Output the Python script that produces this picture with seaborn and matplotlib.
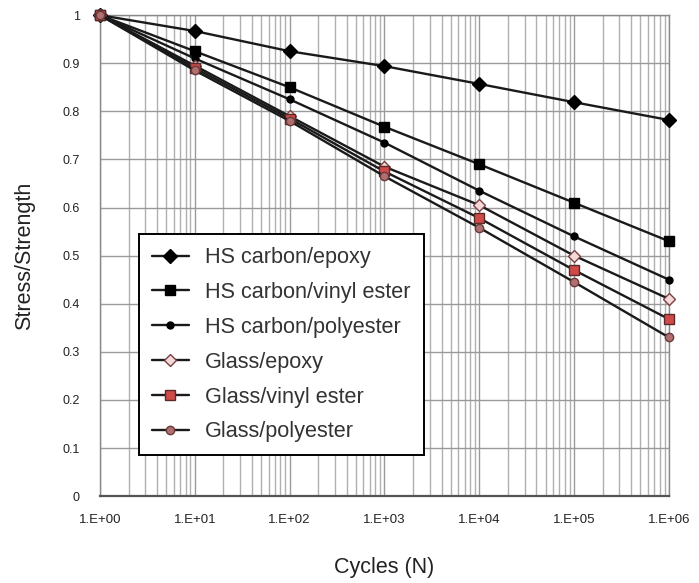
import numpy as np
import pandas as pd
import matplotlib
matplotlib.use('Agg')
import matplotlib.pyplot as plt
import seaborn as sns
from matplotlib.ticker import LogLocator, NullFormatter

# data
cycles = [1e0, 1e1, 1e2, 1e3, 1e4, 1e5, 1e6]
series_names = [
    "HS carbon/epoxy",
    "HS carbon/vinyl ester",
    "HS carbon/polyester",
    "Glass/epoxy",
    "Glass/vinyl ester",
    "Glass/polyester",
]
hs_carbon_epoxy = [1.0, 0.967, 0.925, 0.894, 0.857, 0.819, 0.782]
hs_carbon_vinyl = [1.0, 0.925, 0.850, 0.768, 0.690, 0.610, 0.530]
hs_carbon_poly = [1.0, 0.910, 0.825, 0.735, 0.635, 0.540, 0.450]
glass_epoxy = [1.0, 0.895, 0.790, 0.685, 0.605, 0.500, 0.410]
glass_vinyl = [1.0, 0.890, 0.785, 0.675, 0.578, 0.470, 0.368]
glass_poly = [1.0, 0.885, 0.780, 0.665, 0.558, 0.445, 0.330]
tick_labels = ["1.E+00", "1.E+01", "1.E+02", "1.E+03", "1.E+04", "1.E+05", "1.E+06"]

values = [hs_carbon_epoxy, hs_carbon_vinyl, hs_carbon_poly,
          glass_epoxy, glass_vinyl, glass_poly]

df = pd.DataFrame({
    "Cycles": np.tile(cycles, len(series_names)),
    "Ratio": np.concatenate(values),
    "Material": np.repeat(series_names, len(cycles)),
})

# marker styles per series
styles = {
    "HS carbon/epoxy": dict(marker="D", ms=7, mfc="black", mec="black"),
    "HS carbon/vinyl ester": dict(marker="s", ms=7, mfc="black", mec="black"),
    "HS carbon/polyester": dict(marker="o", ms=5, mfc="black", mec="black"),
    "Glass/epoxy": dict(marker="D", ms=6, mfc="#f3d9d9", mec="#7a4040"),
    "Glass/vinyl ester": dict(marker="s", ms=7, mfc="#d04a4a", mec="#5a2a2a"),
    "Glass/polyester": dict(marker="o", ms=6, mfc="#b07070", mec="#6a3a3a"),
}

sns.set_style("white")
plt.rcParams['font.family'] = ['Liberation Sans', 'DejaVu Sans']

fig = plt.figure(figsize=(6.99, 5.83), dpi=100)
ax = fig.add_axes([0.143, 0.149, 0.814, 0.825])

for name in series_names:
    st = styles[name]
    sns.lineplot(
        data=df[df["Material"] == name], x="Cycles", y="Ratio",
        ax=ax, color="#1a1a1a", linewidth=1.7, label=name,
        marker=st["marker"], markersize=st["ms"],
        markerfacecolor=st["mfc"], markeredgecolor=st["mec"],
        markeredgewidth=1.0, clip_on=False, zorder=3,
    )

ax.set_xscale("log")
ax.set_xlim(1, 1e6)
ax.set_ylim(0, 1)
ax.set_xticks(cycles)
ax.set_xticklabels(tick_labels, fontsize=9.5, color="#222222")
ax.xaxis.set_minor_locator(LogLocator(base=10, subs=np.arange(2, 10)))
ax.xaxis.set_minor_formatter(NullFormatter())
yt = np.round(np.arange(0, 1.01, 0.1), 1)
ax.set_yticks(yt)
ax.set_yticklabels(["0" if v == 0 else ("1" if v == 1 else f"{v:g}") for v in yt],
                   fontsize=9, color="#222222")
ax.tick_params(axis="x", which="both", length=0, pad=13)
ax.tick_params(axis="y", which="both", length=0, pad=14.5)

ax.grid(True, which="major", axis="both", color="#9a9a9a", linewidth=1.0)
ax.grid(True, which="minor", axis="x", color="#b0b0b0", linewidth=1.0)
for sp in ax.spines.values():
    sp.set_color("#888888")
    sp.set_linewidth(1.0)
ax.spines["bottom"].set_color("#555555")
ax.spines["bottom"].set_linewidth(1.6)

ax.set_xlabel("Cycles (N)", fontsize=15.5, labelpad=22, color="#222222")
ax.set_ylabel("Stress/Strength", fontsize=15.5, labelpad=20, color="#222222")

leg = ax.legend(loc="upper left", bbox_to_anchor=(0.0685, 0.5447), fontsize=15.6,
                frameon=True, fancybox=False, framealpha=1, edgecolor="black",
                borderaxespad=0, handlelength=1.7, handletextpad=0.75,
                labelspacing=0.64, borderpad=0.6)
leg.get_frame().set_linewidth(1.4)
for t in leg.get_texts():
    t.set_color("#333333")

plt.savefig("out.png", dpi=100)
plt.close()
